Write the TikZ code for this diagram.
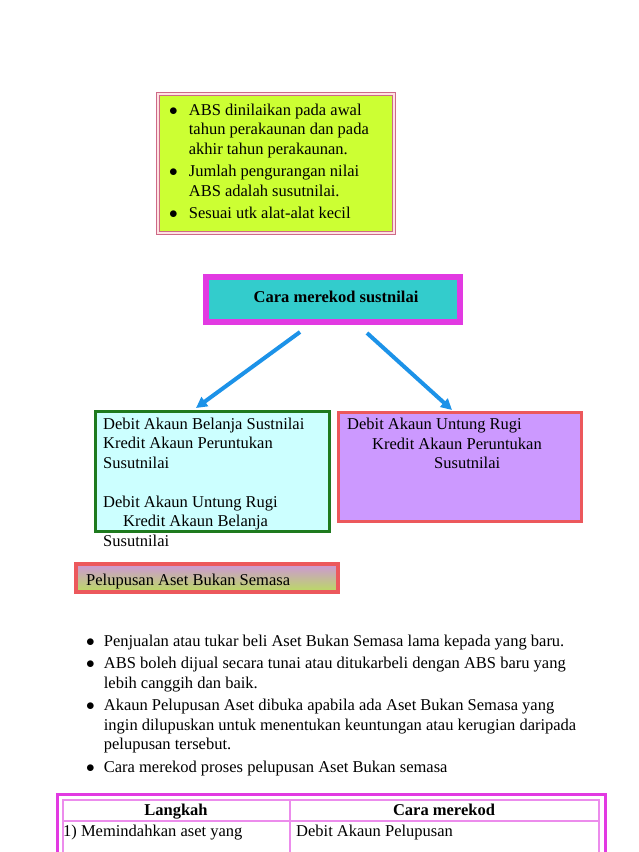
\documentclass[tikz,border=0pt]{standalone}
\usepackage{fontspec}
\setmainfont{Liberation Serif}
\usetikzlibrary{arrows.meta}
\definecolor{limefill}{RGB}{204,255,51}
\definecolor{limeedge}{RGB}{205,105,135}
\definecolor{turq}{RGB}{51,204,204}
\definecolor{magen}{RGB}{226,58,226}
\definecolor{magenlite}{RGB}{236,140,236}
\definecolor{arrowblue}{RGB}{28,146,232}
\definecolor{greenedge}{RGB}{30,122,30}
\definecolor{cyanfill}{RGB}{204,255,255}
\definecolor{rededge}{RGB}{236,88,92}
\definecolor{violetfill}{RGB}{204,153,255}
\definecolor{shadetop}{RGB}{206,150,216}
\definecolor{shadebot}{RGB}{186,220,96}
\newcommand{\bodyfont}{\fontsize{16.5}{19.5}\selectfont}
\newcommand{\itemgap}{\\[3pt]}
\newcommand{\blt}{$\bullet$}
\tikzset{
  box/.style={rectangle, inner sep=0pt, outer sep=0pt, anchor=north west},
  limebox/.style={box, fill=limefill, draw=limeedge, line width=1pt,
                  double=pink!45, double distance=1.6pt},
  titlebox/.style={box, fill=turq, draw=magen, line width=6pt},
  cyanbox/.style={box, fill=cyanfill, draw=greenedge, line width=3pt},
  violetbox/.style={box, fill=violetfill, draw=rededge, line width=3pt},
  shadebox/.style={box, top color=shadetop, bottom color=shadebot,
                   draw=rededge, line width=4pt},
  txt/.style={inner sep=0pt, anchor=base west, font=\bodyfont},
  arrow/.style={-{Triangle[length=11pt,width=11pt]}, line width=4pt, draw=arrowblue},
}

\begin{document}
\begin{tikzpicture}[x=1pt, y=-1pt]
  \useasboundingbox (0,0) rectangle (638,852);
  \clip (0,0) rectangle (638,852);

  % boxes
  \node[limebox, minimum width=236pt, minimum height=139pt] (abs) at (158,94) {};
  \node[titlebox, minimum width=254pt, minimum height=45pt] (cara) at (206,277) {};
  \node[cyanbox, minimum width=234pt, minimum height=120pt] (kiri) at (95.5,411.5) {};
  \node[violetbox, minimum width=243pt, minimum height=109pt] (kanan) at (338.5,412.5) {};
  \node[shadebox, minimum width=262pt, minimum height=28pt] (lupus) at (76,564) {};

  % texts
  \node[txt] (abstext) at (169,115) {\begin{tabular}[t]{@{}l@{\hspace{11pt}}l@{}}
    \blt & ABS dinilaikan pada awal\\
    & tahun perakaunan dan pada\\
    & akhir tahun perakaunan.\itemgap
    \blt & Jumlah pengurangan nilai\\
    & ABS adalah susutnilai.\itemgap
    \blt & Sesuai utk alat-alat kecil
  \end{tabular}};
  \node[txt, anchor=base, font=\bodyfont\bfseries] (caratext) at (336,302)
    {Cara merekod sustnilai};
  \node[txt] (kiritext) at (103,429) {\begin{tabular}[t]{@{}l@{}}
    Debit Akaun Belanja Sustnilai\\
    Kredit Akaun Peruntukan\\
    Susutnilai\\
    \\
    Debit Akaun Untung Rugi\\
    \hspace*{20pt}Kredit Akaun Belanja\\
    Susutnilai
  \end{tabular}};
  \node[txt] (kanan1) at (347,429) {Debit Akaun Untung Rugi};
  \node[txt] (kanan2) at (372,449) {Kredit Akaun Peruntukan};
  \node[txt] (kanan3) at (434,468) {Susutnilai};
  \node[txt] (lupustext) at (86,585) {Pelupusan Aset Bukan Semasa};

  \node[txt] (senarai) at (86,646) {\begin{tabular}[t]{@{}l@{\hspace{9pt}}l@{}}
    \blt & Penjualan atau tukar beli Aset Bukan Semasa lama kepada yang baru.\itemgap
    \blt & ABS boleh dijual secara tunai atau ditukarbeli dengan ABS baru yang\\
    & lebih canggih dan baik.\itemgap
    \blt & Akaun Pelupusan Aset dibuka apabila ada Aset Bukan Semasa yang\\
    & ingin dilupuskan untuk menentukan keuntungan atau kerugian daripada\\
    & pelupusan tersebut.\itemgap
    \blt & Cara merekod proses pelupusan Aset Bukan semasa
  \end{tabular}};

  % arrows
  \coordinate (tailL) at (300,332);
  \coordinate (headL) at (196,408);
  \coordinate (tailR) at (367,333);
  \coordinate (headR) at (452,410);
  \draw[arrow] (tailL) -- (headL);
  \draw[arrow] (tailR) -- (headR);

  % table
  \draw[magen, line width=3pt] (57,794) rectangle (605,900);
  \draw[magenlite, line width=1.2pt] (63,800) rectangle (599,900);
  \draw[magenlite, line width=1.2pt] (63,821) -- (599,821);
  \draw[magenlite, line width=1.2pt] (290,800) -- (290,900);
  \node[txt, anchor=base, font=\bodyfont\bfseries] (langkah) at (176,815) {Langkah};
  \node[txt, anchor=base, font=\bodyfont\bfseries] (carahead) at (444,815) {Cara merekod};
  \node[txt] (langkah1) at (63,836) {1) Memindahkan aset yang};
  \node[txt] (cara1) at (296,836) {Debit Akaun Pelupusan};
\end{tikzpicture}
\end{document}
